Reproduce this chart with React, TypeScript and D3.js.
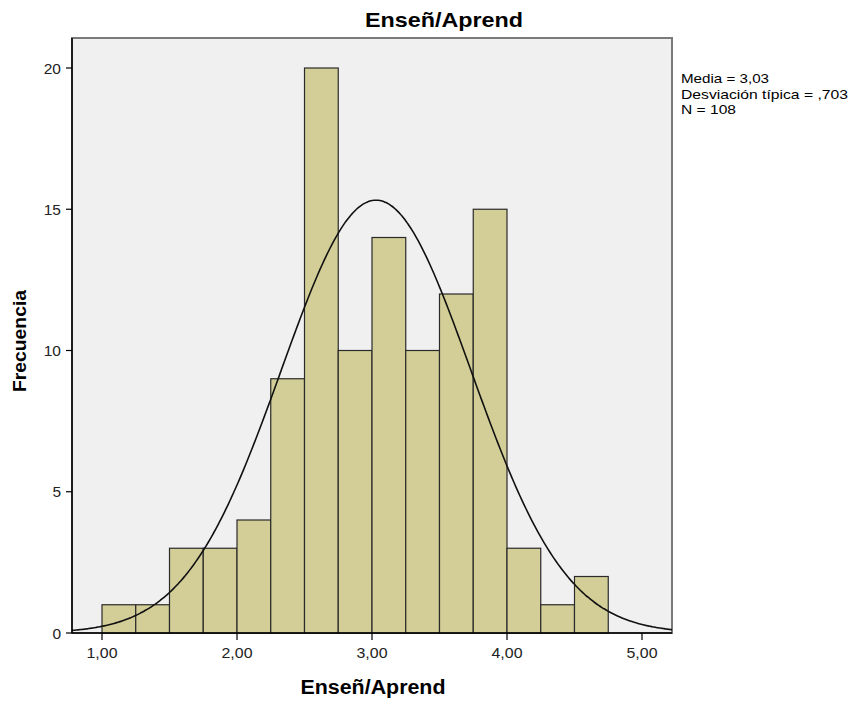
import React from "react";
import * as d3 from "d3";

const binStarts = [1.0, 1.25, 1.5, 1.75, 2.0, 2.25, 2.5, 2.75, 3.0, 3.25, 3.5, 3.75, 4.0, 4.25, 4.5];
const counts = [1, 1, 3, 3, 4, 9, 20, 10, 14, 10, 12, 15, 3, 1, 2];
const binWidth = 0.25;
const xTicks = [1, 2, 3, 4, 5];
const yTicks = [0, 5, 10, 15, 20];
const mean = 3.03;
const sd = 0.703;
const n = 108;
const legendLines = ["Media = 3,03", "Desviación típica = ,703", "N = 108"];
const legendWidths = [88, 167, 55];

export default function App() {
  const W = 853, H = 704;
  const left = 72, right = 672, top = 38, bottom = 633;
  const x = d3.scaleLinear().domain([1, 5]).range([102, 642]);
  const xMin = x.invert(left), xMax = x.invert(right);
  const y = d3.scaleLinear().domain([0, 20]).range([bottom, 68]);
  const pdf = (v: number) => (n * binWidth) / (sd * Math.sqrt(2 * Math.PI)) * Math.exp(-0.5 * ((v - mean) / sd) ** 2);
  const pts = d3.range(0, 301).map(i => xMin + (xMax - xMin) * i / 300);
  const line = d3.line<number>().x(d => x(d)).y(d => y(pdf(d))).curve(d3.curveBasis);
  const fmt = (v: number) => v.toFixed(2).replace(".", ",");
  const font = "'Liberation Sans', Arial, sans-serif";
  return (
    <svg width={W} height={H} style={{ display: "block", position: "absolute", left: 0, top: 0 }} fontFamily={font}>
      <rect x={0} y={0} width={W} height={H} fill="#ffffff" />
      <text x={444} y={27} textAnchor="middle" fontSize={21} fontWeight="bold" fill="#000"
        textLength={158} lengthAdjust="spacingAndGlyphs">Enseñ/Aprend</text>
      <rect x={left} y={top} width={right - left} height={bottom - top} fill="#f0f0f0" stroke="#7a7a7a" strokeWidth={2} />
      <g>
        {counts.map((c, i) => (
          <rect key={i} x={x(binStarts[i])} y={y(c)} width={x(binStarts[i] + binWidth) - x(binStarts[i])} height={y(0) - y(c)}
            fill="#d3ce97" stroke="#2a2a2a" strokeWidth={1.2} />
        ))}
      </g>
      <path d={line(pts) || ""} fill="none" stroke="#111" strokeWidth={1.6} />
      <line x1={left} x2={left} y1={top} y2={bottom} stroke="#000" strokeWidth={1.5} />
      <line x1={left} x2={right} y1={bottom} y2={bottom} stroke="#000" strokeWidth={1.5} />
      {yTicks.map(t => (
        <g key={t}>
          <line x1={left - 6} x2={left} y1={y(t)} y2={y(t)} stroke="#000" strokeWidth={1.2} />
          <text x={left - 11} y={y(t) + 5.5} textAnchor="end" fontSize={15.5} fill="#222">{t}</text>
        </g>
      ))}
      {xTicks.map(t => (
        <g key={t}>
          <line x1={x(t)} x2={x(t)} y1={bottom} y2={bottom + 7} stroke="#000" strokeWidth={1.2} />
          <text x={x(t)} y={bottom + 25} textAnchor="middle" fontSize={15.5} fill="#222"
            textLength={31} lengthAdjust="spacingAndGlyphs">{fmt(t)}</text>
        </g>
      ))}
      <text x={373} y={694} textAnchor="middle" fontSize={20} fontWeight="bold" fill="#000"
        textLength={145} lengthAdjust="spacingAndGlyphs">Enseñ/Aprend</text>
      <text transform={`translate(25.5,341) rotate(-90)`} textAnchor="middle" fontSize={18.5} fontWeight="bold" fill="#000"
        textLength={102} lengthAdjust="spacingAndGlyphs">Frecuencia</text>
      {legendLines.map((s, i) => (
        <text key={i} x={681} y={83 + i * 15.5} fontSize={13.5} fill="#000"
          textLength={legendWidths[i]} lengthAdjust="spacingAndGlyphs">{s}</text>
      ))}
    </svg>
  );
}
